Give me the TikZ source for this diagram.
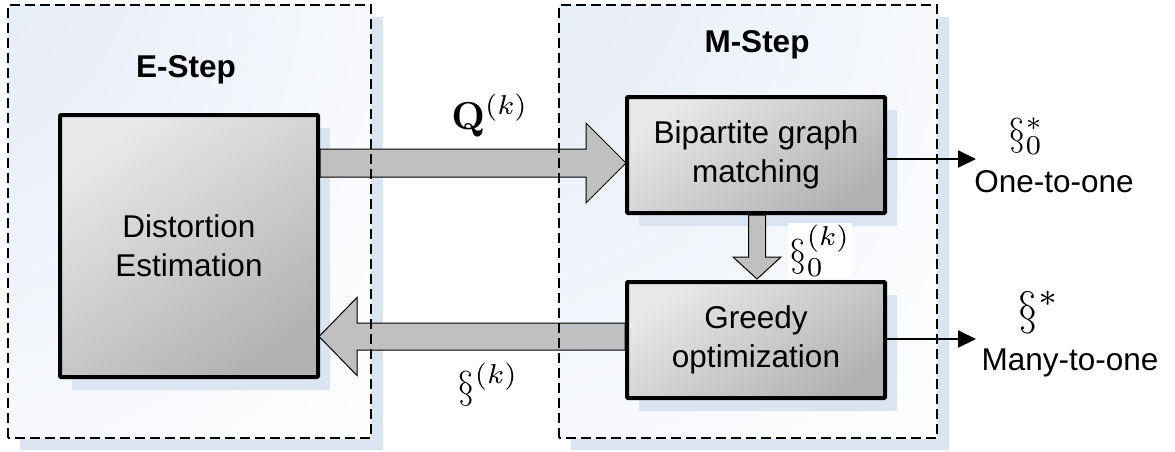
\documentclass[tikz,border=0pt]{standalone}
\usepackage[no-math]{fontspec}
\usepackage{graphicx}
\setmainfont{Liberation Sans}
\usetikzlibrary{calc,shadows,arrows.meta}
\definecolor{shadowblue}{RGB}{219,229,241}
\definecolor{bgblue}{RGB}{226,233,245}
\definecolor{arrowgray}{RGB}{192,192,192}
\pgfdeclareradialshading{cornerglow}{\pgfpoint{-45bp}{45bp}}{color(0bp)=(bgblue); color(25bp)=(bgblue!75!white); color(70bp)=(white); color(150bp)=(white)}
\begin{document}
\begin{tikzpicture}[x=1pt,y=-1pt,
  regionbox/.style={inner sep=0pt, outer sep=0pt, shading=cornerglow,
    drop shadow={shadow xshift=12pt, shadow yshift=-12pt, fill=shadowblue, opacity=1}},
  regionborder/.style={line width=1.3pt, dash pattern=on 10pt off 5pt},
  procbox/.style={draw, line width=4pt, rounded corners=1pt, inner sep=0pt, outer sep=0pt,
    top color=black!9, bottom color=black!30, shading angle=35,
    drop shadow={shadow xshift=12pt, shadow yshift=-13pt, fill=shadowblue, opacity=1},
    align=center, font=\fontsize{31.5}{39}\selectfont},
  steplabel/.style={font=\bfseries\fontsize{31.5}{36}\selectfont},
  mathlabel/.style={anchor=base, inner sep=0pt, font=\fontsize{10}{12}\selectfont},
  outtext/.style={anchor=base, inner sep=0pt, font=\fontsize{31.5}{36}\selectfont},
  blockarrow/.style={draw=black, line width=1pt, fill=arrowgray, line join=miter},
  outarrow/.style={line width=2pt, -{Triangle[length=18pt,width=17pt]}}
]
\useasboundingbox (0,0) rectangle (1175,451);

% region backgrounds
\node[regionbox, minimum width=363pt, minimum height=433pt] (E) at (189.5,221.5) {};
\node[regionbox, minimum width=378pt, minimum height=433pt] (M) at (748,221.5) {};

\node[steplabel] (elabel) at (186,70) {E-Step};
\node[steplabel] (mlabel) at (757,45) {M-Step};

% process boxes
\node[procbox, minimum width=258pt, minimum height=262pt] (dist) at (189,246) {Distortion\\Estimation};
\node[procbox, minimum width=258pt, minimum height=116pt] (bip) at (756,155) {Bipartite graph\\matching};
\node[procbox, minimum width=258pt, minimum height=116pt] (greedy) at (756,340) {Greedy\\optimization};

% Q arrow (E -> bipartite)
\coordinate (qtip) at ($(bip.west)+(-1,8)$);
\coordinate (qtail) at (qtip -| dist.east);
\draw[blockarrow] ($(qtail)+(2,-14)$) -- ($(qtip)+(-40,-14)$) -- ($(qtip)+(-40,-40)$) -- (qtip)
  -- ($(qtip)+(-40,40)$) -- ($(qtip)+(-40,14)$) -- ($(qtail)+(2,14)$) -- cycle;

% S arrow (greedy -> E)
\coordinate (stail) at ($(greedy.west)+(-2,-3.5)$);
\coordinate (stip) at ($(stail -| dist.east)+(1,0)$);
\draw[blockarrow] ($(stail)+(0,-13.5)$) -- ($(stip)+(38,-13.5)$) -- ($(stip)+(38,-39)$) -- (stip)
  -- ($(stip)+(38,39)$) -- ($(stip)+(38,13.5)$) -- ($(stail)+(0,13.5)$) -- cycle;

% down arrow (bipartite -> greedy)
\coordinate (dtail) at ($(bip.south)+(1,2)$);
\coordinate (dtip) at ($(greedy.north)+(1,-3)$);
\draw[blockarrow] ($(dtail)+(-8.5,0)$) -- ($(dtip)+(-8.5,-22)$) -- ($(dtip)+(-24,-22)$) -- (dtip)
  -- ($(dtip)+(24,-22)$) -- ($(dtip)+(8.5,-22)$) -- ($(dtail)+(8.5,0)$) -- cycle;

% region borders on top
\draw[regionborder] (E.south west) rectangle (E.north east);
\draw[regionborder] (M.south west) rectangle (M.north east);

% outputs
\coordinate (o1) at (976,159);
\coordinate (o2) at (976,339);
\draw[outarrow] (bip.east |- o1) -- (o1);
\draw[outarrow] (greedy.east |- o2) -- (o2);

% labels
\node[mathlabel] (qlab) at (490,129) {\scalebox{3.9}{$\mathbf{Q}^{(k)}$}};
\node[mathlabel] (slab) at (488,398) {\scalebox{3.9}{$\S^{(k)}$}};
\node[mathlabel, fill=white, inner sep=2pt] (s0lab) at (820,266) {\scalebox{3.9}{$\S_0^{(k)}$}};
\node[mathlabel] (s0star) at (1026,145) {\scalebox{3.9}{$\S_0^{*}$}};
\node[mathlabel] (sstar) at (1039,324) {\scalebox{4.7}{$\S^{*}$}};
\node[outtext] (one) at (1054,192) {One-to-one};
\node[outtext] (many) at (1070,370) {Many-to-one};
\end{tikzpicture}
\end{document}
